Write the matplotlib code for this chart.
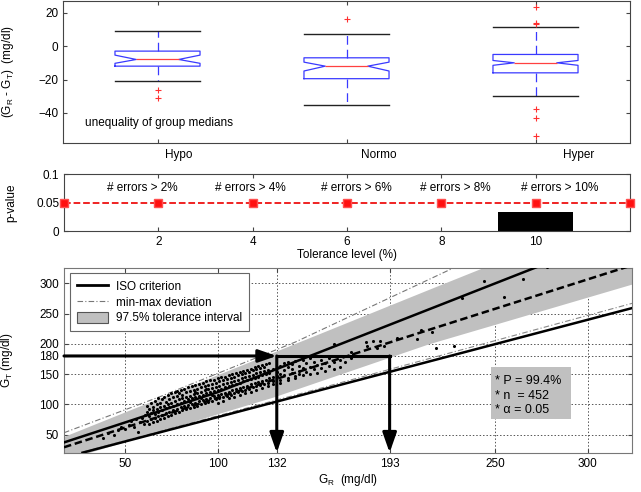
import matplotlib
matplotlib.use("Agg")
import matplotlib.pyplot as plt
from matplotlib.patches import Rectangle
from matplotlib.lines import Line2D
from matplotlib.patches import Patch

plt.rcParams['font.family'] = ['Liberation Sans', 'DejaVu Sans']

# ---------------- data: top boxplot ----------------
groups = ["Hypo", "Normo", "Hyper"]
box_med = [-8, -12, -10]
box_q1 = [-12, -19.5, -16]
box_q3 = [-3, -7, -5]
box_whislo = [-21, -35, -30]
box_whishi = [9, 7.5, 11.5]
box_cilo = [-10.3, -14.9, -11.5]
box_cihi = [-5.4, -9.6, -8.6]
box_fliers = [[-26.5, -31], [16.5], [23.5, 13.9, 13.1, -37.4, -43.2, -54.1]]
group_label_x = [1.11, 2.17, 3.23]

# ---------------- data: middle p-value panel ----------------
tol_levels = [0, 2, 4, 6, 8, 10, 12]
pvals = [0.05, 0.05, 0.05, 0.05, 0.05, 0.05, 0.05]
bar_x = [10]
bar_h = [0.034]
err_labels = ["# errors > 2%", "# errors > 4%", "# errors > 6%", "# errors > 8%", "# errors > 10%"]
err_label_x = [1.65, 3.95, 6.2, 8.3, 10.5]

# ---------------- data: bottom scatter panel ----------------
iso_up_x = [17, 100, 330]
iso_up_y = [37, 120, 396]
iso_lo_x = [27, 330]
iso_lo_y = [20, 264]
mm_up_x = [17, 70, 142, 232]
mm_up_y = [53, 114, 203, 332]
mm_lo_x = [27, 150, 330]
mm_lo_y = [21, 122, 272]
band_x = [17, 130, 214, 324]
band_hi = [47, 186, 290, 425]
band_lo = [8, 112, 200, 299]
center_x = [17, 80, 214, 324]
center_y = [29, 91, 223, 330]
gt_level = 180
gr_levels = [132, 193]

# scatter points: G_R value -> G_T values at that G_R
sparse_low = [(38,45),(41,52),(44,49),(46,58),(48,62),(50,60),(52,66),(53,72),(55,62),(56,76),
              (57,54),(58,70),(59,78),(60,68),(61,82)]
cloud_rows = {
    62: [72, 88, 98], 63: [68, 80, 92], 64: [75, 85, 102], 65: [70, 90, 96], 66: [78, 84, 105],
    67: [73, 92, 100], 68: [80, 88, 110], 69: [76, 95, 103], 70: [82, 90, 108], 71: [78, 98, 112],
    72: [85, 94, 104], 73: [80, 100, 115], 74: [88, 96, 108], 75: [83, 102, 118], 76: [90, 98, 112],
    77: [86, 106, 120], 78: [92, 100, 114, 122], 79: [88, 108, 118], 80: [95, 103, 124],
    81: [90, 110, 116], 82: [97, 106, 126], 83: [92, 112, 120], 84: [99, 108, 128],
    85: [94, 114, 122, 104], 86: [101, 110, 130], 87: [96, 117, 124], 88: [103, 112, 132, 120],
    89: [98, 119, 126], 90: [105, 114, 134], 91: [100, 121, 128, 110], 92: [107, 116, 136],
    93: [102, 123, 130], 94: [109, 118, 138, 126], 95: [104, 125, 132], 96: [111, 120, 140],
    97: [106, 127, 134, 116], 98: [113, 122, 141], 99: [108, 129, 136], 100: [115, 124, 143, 103],
    101: [110, 131, 138], 102: [117, 126, 145], 103: [112, 133, 140, 105], 104: [119, 128, 146],
    105: [114, 135, 142], 106: [121, 130, 148, 110], 107: [116, 137, 144], 108: [123, 132, 150],
    109: [118, 139, 146, 112], 110: [125, 134, 151], 111: [120, 141, 148], 112: [127, 136, 153, 116],
    113: [122, 143, 150], 114: [129, 138, 155], 115: [124, 145, 152, 118], 116: [131, 140, 157],
    117: [126, 147, 154], 118: [133, 142, 159, 121], 119: [128, 149, 156], 120: [135, 144, 161],
    121: [130, 151, 158, 124], 122: [137, 146, 163], 123: [132, 153, 160], 124: [139, 148, 165, 127],
    125: [134, 155, 162], 126: [141, 150, 166], 127: [136, 157, 130], 128: [143, 152, 168],
    130: [138, 159, 146, 133], 132: [147, 162, 154], 134: [141, 164, 150, 136], 136: [149, 168, 157],
    138: [144, 161, 140, 170], 140: [152, 166, 158], 142: [147, 172, 143], 144: [155, 164, 150],
    146: [160, 148, 174], 148: [153, 168], 150: [162, 150, 176], 152: [158, 170], 154: [165, 152],
    156: [160, 174], 158: [168, 155], 160: [164, 176], 163: [170, 158], 166: [174, 162],
    169: [170], 172: [176],
}
sparse_high = [(163,200),(172,187),(173,184),(180,203),(184,204),(188,205),(181,196),(186,193),
               (190,196),(197,209),(208,208),(210,223),(216,219),(218,194),(228,196),(232,276),
               (244,304),(255,278),(265,307),(278,327)]

pts_x = [p[0] for p in sparse_low]
pts_y = [p[1] for p in sparse_low]
for gx, gys in cloud_rows.items():
    for gy in gys:
        pts_x.append(gx)
        pts_y.append(gy)
pts_x += [p[0] for p in sparse_high]
pts_y += [p[1] for p in sparse_high]

stats_lines = ["* P = 99.4%", "* n  = 452", "* \u03b1 = 0.05"]

FS = 8.5
frame_col = '#444444'

fig = plt.figure(figsize=(6.41, 4.92), dpi=100)

# ---------------- top panel ----------------
ax1 = fig.add_axes([63/641, 1-143/492, 567/641, 142/492])
stats = []
for i in range(3):
    stats.append(dict(med=box_med[i], q1=box_q1[i], q3=box_q3[i], whislo=box_whislo[i],
                      whishi=box_whishi[i], fliers=box_fliers[i], cilo=box_cilo[i], cihi=box_cihi[i]))
ax1.bxp(stats, positions=[1, 2, 3], widths=0.45, capwidths=0.45, shownotches=True,
        boxprops=dict(color='#3a3aff', lw=0.9),
        medianprops=dict(color='#ff4040', lw=0.9),
        whiskerprops=dict(color='#3a3aff', lw=0.9, ls=(0, (7, 4))),
        capprops=dict(color='#222222', lw=1.0),
        flierprops=dict(marker='+', markeredgecolor='#ff3030', markersize=5, mew=0.8, ls='none'))
ax1.set_xlim(0.5, 3.5)
ax1.set_ylim(-58, 27)
ax1.set_yticks([-40, -20, 0, 20])
ax1.set_xticks([1, 2, 3])
ax1.set_xticklabels(['', '', ''])
ax1.tick_params(direction='in', top=True, right=True, labelsize=FS, length=3, color=frame_col)
for s in ax1.spines.values():
    s.set_color(frame_col)
for g, gx in zip(groups, group_label_x):
    ax1.text(gx, -0.085, g, transform=ax1.get_xaxis_transform(), ha='center', va='center', fontsize=FS)
ax1.text(0.615, -46, "unequality of group medians", fontsize=FS, va='center', ha='left')
ax1.set_ylabel("(G$_\\mathregular{R}$ - G$_\\mathregular{T}$)  (mg/dl)", fontsize=FS)
ax1.yaxis.set_label_coords(-0.083, 0.5)

# ---------------- middle panel ----------------
ax2 = fig.add_axes([64/641, 1-231/492, 566/641, 56.7/492])
ax2.bar(bar_x, bar_h, width=1.6, color='black', zorder=2)
ax2.plot(tol_levels, pvals, color='#ee1111', ls='--', lw=1.3, marker='s', markersize=6,
         markerfacecolor='#ff1010', markeredgecolor='#ff5050', zorder=3, clip_on=False)
ax2.set_xlim(0, 12)
ax2.set_ylim(0, 0.1)
ax2.set_xticks([2, 4, 6, 8, 10])
ax2.set_yticks([0, 0.05, 0.1])
ax2.set_yticklabels(['0', '0.05', '0.1'])
ax2.tick_params(direction='in', top=True, right=True, labelsize=FS, length=3, color=frame_col)
for s in ax2.spines.values():
    s.set_color(frame_col)
for lab, lx in zip(err_labels, err_label_x):
    ax2.text(lx, 0.076, lab, ha='center', va='center', fontsize=FS)
ax2.set_xlabel("Tolerance level (%)", fontsize=FS, labelpad=1)
ax2.set_ylabel("p-value", fontsize=FS)
ax2.yaxis.set_label_coords(-0.082, 0.5)

# ---------------- bottom panel ----------------
ax3 = fig.add_axes([64/641, 1-452.7/492, 568/641, 184.4/492])
ax3.fill_between(band_x, band_lo, band_hi, color='#c0c0c0', lw=0, zorder=1)
ax3.plot(mm_up_x, mm_up_y, color='#777777', lw=0.8, ls=(0, (5, 2, 1, 2)), zorder=2)
ax3.plot(mm_lo_x, mm_lo_y, color='#888888', lw=0.8, ls=(0, (5, 2, 1, 2)), zorder=2)
ax3.plot(iso_up_x, iso_up_y, color='black', lw=1.8, zorder=3)
ax3.plot(iso_lo_x, iso_lo_y, color='black', lw=1.8, zorder=3)
ax3.plot(center_x, center_y, color='black', lw=1.8, ls=(0, (3, 1.5)), zorder=3)
ax3.scatter(pts_x, pts_y, s=5, color='black', lw=0, zorder=4)

x_left, x_right = 17, 324
y_bot, y_top = 20, 325
ax3.set_xlim(x_left, x_right)
ax3.set_ylim(y_bot, y_top)

arrow_v = dict(arrowstyle='-|>,head_length=1.2,head_width=0.42', lw=2.2, color='black',
               shrinkA=0, shrinkB=0)
arrow_h = dict(arrowstyle='-|>,head_length=1.1,head_width=0.38', lw=2.2, color='black',
               shrinkA=0, shrinkB=0)
ax3.annotate('', xy=(gr_levels[0], gt_level), xytext=(x_left, gt_level), arrowprops=arrow_h, zorder=5)
ax3.plot([gr_levels[0], gr_levels[1]], [gt_level, gt_level], color='black', lw=2.2, zorder=5)
for gx in gr_levels:
    ax3.annotate('', xy=(gx, y_bot), xytext=(gx, gt_level), arrowprops=arrow_v, zorder=5)

ax3.set_xticks([50, 100, 132, 193, 250, 300])
ax3.set_yticks([50, 100, 150, 180, 200, 250, 300])
ax3.grid(True, ls=(0, (1.5, 2)), color='#555555', lw=0.7)
ax3.set_axisbelow(True)
ax3.tick_params(direction='in', top=True, right=True, labelsize=FS, length=3, color=frame_col)
for s in ax3.spines.values():
    s.set_color('#777777')

ax3.add_patch(Rectangle((0.752, 0.184), 0.141, 0.281, transform=ax3.transAxes,
                        facecolor='#c0c0c0', edgecolor='none', zorder=6))
for i, line in enumerate(stats_lines):
    ax3.text(0.759, 0.389 - i * 0.079, line, transform=ax3.transAxes, fontsize=FS + 0.5,
             va='center', ha='left', zorder=7)

handles = [Line2D([], [], color='black', lw=2),
           Line2D([], [], color='#777777', lw=0.8, ls=(0, (5, 2, 1, 2))),
           Patch(facecolor='#c0c0c0', edgecolor='#555555', lw=0.8)]
labels = ["ISO criterion", "min-max deviation", "97.5% tolerance interval"]
leg = ax3.legend(handles, labels, loc='upper left', bbox_to_anchor=(0.0106, 0.973),
                 borderaxespad=0, fancybox=False, edgecolor='#666666', framealpha=1,
                 fontsize=FS, handlelength=2.6, handleheight=1.1, labelspacing=0.25,
                 borderpad=0.6, handletextpad=0.7)
leg.get_frame().set_linewidth(0.8)
leg.set_zorder(8)

ax3.set_xlabel("G$_\\mathregular{R}$  (mg/dl)", fontsize=FS, labelpad=2)
ax3.set_ylabel("G$_\\mathregular{T}$ (mg/dl)", fontsize=FS)
ax3.yaxis.set_label_coords(-0.086, 0.5)

fig.savefig("out.png", dpi=100)
